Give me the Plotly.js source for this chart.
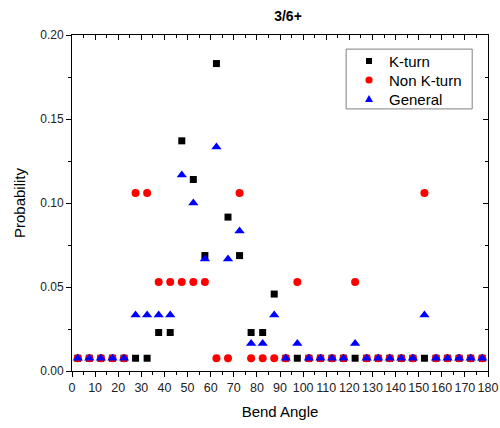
<!DOCTYPE html>
<html>
<head>
<meta charset="utf-8">
<script src="https://cdn.plot.ly/plotly-3.0.1.min.js"></script>
<style>html,body{margin:0;padding:0;background:#fff;}#chart{width:500px;height:428px;}</style>
</head>
<body>
<div id="chart"></div>
<script>
const bendAngle = [2.5,7.5,12.5,17.5,22.5,27.5,32.5,37.5,42.5,47.5,52.5,57.5,62.5,67.5,72.5,77.5,82.5,87.5,92.5,97.5,102.5,107.5,112.5,117.5,122.5,127.5,132.5,137.5,142.5,147.5,152.5,157.5,162.5,167.5,172.5,177.5];
const kTurn = [0.0076,0.0076,0.0076,0.0076,0.0076,0.0076,0.0076,0.0229,0.0229,0.137,0.114,0.0687,0.183,0.0916,0.0687,0.0229,0.0229,0.0458,0.0076,0.0076,0.0076,0.0076,0.0076,0.0076,0.0076,0.0076,0.0076,0.0076,0.0076,0.0076,0.0076,0.0076,0.0076,0.0076,0.0076,0.0076];
const nonKTurn = [0.0076,0.0076,0.0076,0.0076,0.0076,0.106,0.106,0.053,0.053,0.053,0.053,0.053,0.0076,0.0076,0.106,0.0076,0.0076,0.0076,0.0076,0.053,0.0076,0.0076,0.0076,0.0076,0.053,0.0076,0.0076,0.0076,0.0076,0.0076,0.106,0.0076,0.0076,0.0076,0.0076,0.0076];
const general = [0.0076,0.0076,0.0076,0.0076,0.0076,0.0333,0.0333,0.0333,0.0333,0.1167,0.100,0.0667,0.1333,0.0667,0.0833,0.0163,0.0163,0.0333,0.0076,0.0163,0.0076,0.0076,0.0076,0.0076,0.0163,0.0076,0.0076,0.0076,0.0076,0.0076,0.0333,0.0076,0.0076,0.0076,0.0076,0.0076];
const seriesNames = ['K-turn', 'Non K-turn', 'General'];
const xTicks = [0,10,20,30,40,50,60,70,80,90,100,110,120,130,140,150,160,170,180];
const yTicks = [0,0.05,0.10,0.15,0.20];

const font = 'Liberation Sans, Arial, sans-serif';
const traces = [
  {x: bendAngle, y: kTurn, name: seriesNames[0], type: 'scatter', mode: 'markers',
   marker: {symbol: 'square', color: '#000000', size: 7}},
  {x: bendAngle, y: nonKTurn, name: seriesNames[1], type: 'scatter', mode: 'markers',
   marker: {symbol: 'circle', color: '#ff0000', size: 8}},
  {x: bendAngle, y: general, name: seriesNames[2], type: 'scatter', mode: 'markers',
   marker: {symbol: 'triangle-up', color: '#0000ff', size: 9}}
];

// custom legend (paper coordinates, pixel-sized symbols)
const legX0 = 0.659, legX1 = 0.962, legY0 = 0.780, legY1 = 0.958;
const legRows = [0.9226, 0.866, 0.8095];
const symX = 0.714, textX = 0.7572;
const shapes = [
  {type: 'rect', xref: 'paper', yref: 'paper', x0: legX0, x1: legX1, y0: legY0, y1: legY1,
   line: {color: '#808080', width: 1}, fillcolor: '#ffffff', layer: 'above'},
  {type: 'rect', xref: 'paper', yref: 'paper', xsizemode: 'pixel', ysizemode: 'pixel', xanchor: symX, yanchor: legRows[0],
   x0: -3, x1: 3, y0: -3, y1: 3, line: {width: 0}, fillcolor: '#000000', layer: 'above'},
  {type: 'circle', xref: 'paper', yref: 'paper', xsizemode: 'pixel', ysizemode: 'pixel', xanchor: symX, yanchor: legRows[1],
   x0: -3.6, x1: 3.6, y0: -3.6, y1: 3.6, line: {width: 0}, fillcolor: '#ff0000', layer: 'above'},
  {type: 'path', xref: 'paper', yref: 'paper', xsizemode: 'pixel', ysizemode: 'pixel', xanchor: symX, yanchor: legRows[2],
   path: 'M -4,-3 L 4,-3 L 0,4 Z', line: {width: 0}, fillcolor: '#0000ff', layer: 'above'}
];
const annotations = seriesNames.map((n, i) => ({
  text: n, xref: 'paper', yref: 'paper', x: textX, y: legRows[i], xanchor: 'left', yanchor: 'middle',
  showarrow: false, font: {size: 15, family: font, color: '#000'}
}));

const layout = {
  width: 500, height: 428,
  margin: {l: 72, r: 12, t: 35, b: 57},
  paper_bgcolor: '#ffffff', plot_bgcolor: '#ffffff',
  font: {family: font, color: '#000'},
  title: {text: '<b>3/6+</b>', x: 0.576, xanchor: 'center', y: 0.9626, yanchor: 'middle', font: {size: 14, family: font, color: '#000'}},
  showlegend: false,
  shapes: shapes,
  annotations: annotations,
  xaxis: {range: [0, 180], tickvals: xTicks, ticktext: xTicks.map(String), ticks: 'outside', ticklen: 5, tickwidth: 1, tickcolor: '#000',
    showline: true, linecolor: '#000', linewidth: 1, showgrid: false, zeroline: false,
    tickfont: {size: 12.5, family: font, color: '#222'},
    minor: {ticks: 'outside', ticklen: 3, tickwidth: 1, tickcolor: '#000', dtick: 5, tick0: 0, showgrid: false},
    title: {text: 'Bend Angle', font: {size: 15, family: font, color: '#000'}, standoff: 12}},
  yaxis: {range: [0, 0.2], tickvals: yTicks, ticktext: yTicks.map(v => v.toFixed(2)), ticks: 'outside', ticklen: 5, tickwidth: 1, tickcolor: '#000',
    showline: true, linecolor: '#000', linewidth: 1, showgrid: false, zeroline: false,
    tickfont: {size: 12, family: font, color: '#222'},
    minor: {ticks: 'outside', ticklen: 3, tickwidth: 1, tickcolor: '#000', dtick: 0.025, tick0: 0, showgrid: false},
    title: {text: 'Probability', font: {size: 15, family: font, color: '#000'}, standoff: 10}},
  xaxis2: {overlaying: 'x', side: 'top', matches: 'x', range: [0, 180], tickvals: xTicks, showticklabels: false, ticks: 'inside', ticklen: 5, tickcolor: '#000',
    showline: true, linecolor: '#000', linewidth: 1, showgrid: false, zeroline: false,
    minor: {ticks: 'inside', ticklen: 3, tickcolor: '#000', dtick: 5, tick0: 0, showgrid: false}},
  yaxis2: {overlaying: 'y', side: 'right', matches: 'y', range: [0, 0.2], tickvals: yTicks, showticklabels: false, ticks: 'inside', ticklen: 5, tickcolor: '#000',
    showline: true, linecolor: '#000', linewidth: 1, showgrid: false, zeroline: false,
    minor: {ticks: 'inside', ticklen: 3, tickcolor: '#000', dtick: 0.025, tick0: 0, showgrid: false}}
};
// invisible trace to activate mirrored axes
traces.push({x: [0], y: [0], xaxis: 'x2', yaxis: 'y2', type: 'scatter', mode: 'markers', marker: {opacity: 0}, showlegend: false, hoverinfo: 'skip'});

Plotly.newPlot('chart', traces, layout, {displayModeBar: false, staticPlot: true});
</script>
</body>
</html>
